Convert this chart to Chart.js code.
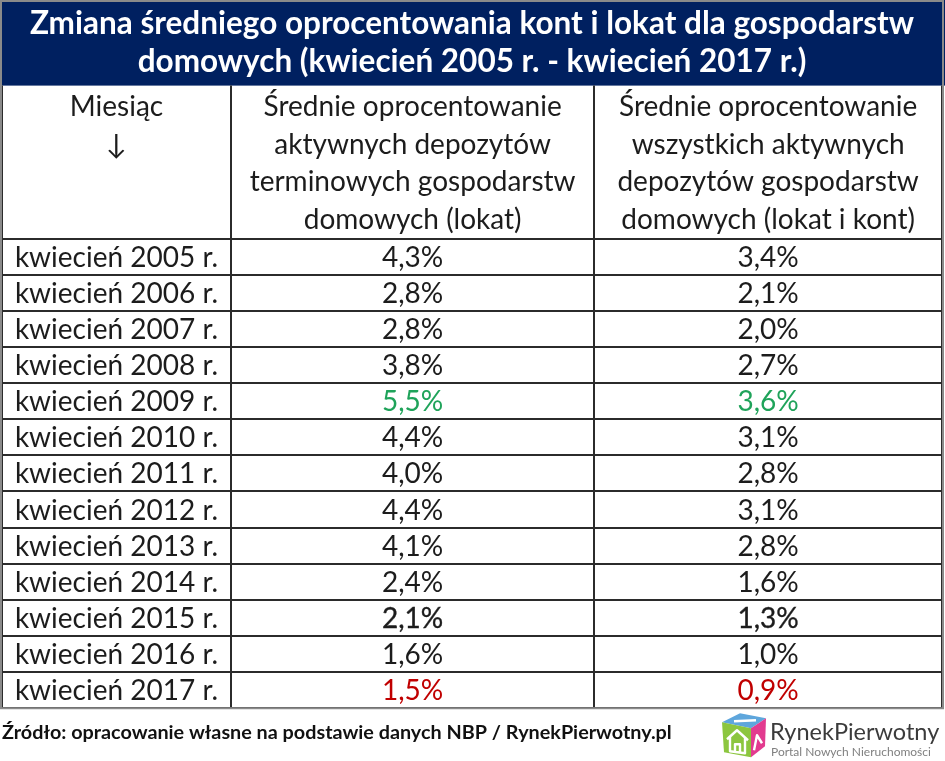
<!DOCTYPE html>
<html><head><meta charset="utf-8">
<script src="https://cdn.jsdelivr.net/npm/chart.js@4.4.1/dist/chart.umd.min.js"></script>
<style>html,body{margin:0;padding:0;background:#fff;}#wrap{width:945px;height:761px;position:relative;}</style>
</head><body><div id="wrap"><canvas id="c"></canvas></div>
<script>
// ---------- data ----------
const titleLines = [
  'Zmiana średniego oprocentowania kont i lokat dla gospodarstw',
  'domowych (kwiecień 2005 r. - kwiecień 2017 r.)'
];
const columnHeaders = [
  ['Miesiąc', '↓'],
  ['Średnie oprocentowanie', 'aktywnych depozytów', 'terminowych gospodarstw', 'domowych (lokat)'],
  ['Średnie oprocentowanie', 'wszystkich aktywnych', 'depozytów gospodarstw', 'domowych (lokat i kont)']
];
const months = [
  'kwiecień 2005 r.', 'kwiecień 2006 r.', 'kwiecień 2007 r.', 'kwiecień 2008 r.',
  'kwiecień 2009 r.', 'kwiecień 2010 r.', 'kwiecień 2011 r.', 'kwiecień 2012 r.',
  'kwiecień 2013 r.', 'kwiecień 2014 r.', 'kwiecień 2015 r.', 'kwiecień 2016 r.',
  'kwiecień 2017 r.'
];
const depositRates = [4.3, 2.8, 2.8, 3.8, 5.5, 4.4, 4.0, 4.4, 4.1, 2.4, 2.1, 1.6, 1.5];
const allRates     = [3.4, 2.1, 2.0, 2.7, 3.6, 3.1, 2.8, 3.1, 2.8, 1.6, 1.3, 1.0, 0.9];
const sourceText = 'Źródło: opracowanie własne na podstawie danych NBP / RynekPierwotny.pl';

// ---------- layout / style ----------
const FONT = 'Lato, "DejaVu Sans", sans-serif';
const colEdges = [0, 0.2436, 0.6301, 1];   // relative column boundaries of the table
const HEADER_H = 153;
const LINE = '#2b2b2b';
const TEXT = '#1c1c1c';
const GREEN = '#1fa35a';
const RED = '#c00000';
const NAVY = '#002060';
const FRAME = '#8a8a8a';
const emphasisRow = 'kwiecień 2015 r.';

const colCenter = c => (colEdges[c] + colEdges[c + 1]) / 2;
const fmt = v => v.toFixed(1).replace('.', ',') + '%';
function colorsFor(values) {
  const mx = Math.max(...values), mn = Math.min(...values);
  return values.map(v => v === mx ? GREEN : (v === mn ? RED : TEXT));
}

const datasets = [
  { label: 'Miesiąc', data: months.map(m => ({ x: colCenter(0), y: m })),
    cellText: months, cellColors: months.map(() => TEXT) },
  { label: columnHeaders[1].join(' '), data: depositRates.map((v, i) => ({ x: colCenter(1), y: months[i] })),
    cellText: depositRates.map(fmt), cellColors: colorsFor(depositRates) },
  { label: columnHeaders[2].join(' '), data: allRates.map((v, i) => ({ x: colCenter(2), y: months[i] })),
    cellText: allRates.map(fmt), cellColors: colorsFor(allRates) }
].map(d => Object.assign(d, { pointRadius: 0, pointHoverRadius: 0, showLine: false }));

// ---------- plugins ----------
const bandPlugin = {
  id: 'band',
  beforeDraw(chart) {
    const ctx = chart.ctx, xs = chart.scales.x;
    ctx.save();
    ctx.fillStyle = NAVY;
    ctx.fillRect(0, 0, chart.width, xs.top);
    ctx.restore();
  }
};

const cellPlugin = {
  id: 'cells',
  afterDatasetsDraw(chart) {
    const ctx = chart.ctx;
    ctx.save();
    ctx.font = '28px ' + FONT;
    ctx.textAlign = 'center';
    ctx.textBaseline = 'middle';
    chart.data.datasets.forEach((ds, di) => {
      const meta = chart.getDatasetMeta(di);
      meta.data.forEach((pt, i) => {
        ctx.fillStyle = ds.cellColors[i];
        ctx.fillText(ds.cellText[i], pt.x, pt.y + 1);
        if (di > 0 && months[i] === emphasisRow) {
          ctx.strokeStyle = ds.cellColors[i];
          ctx.lineWidth = 0.35;
          ctx.strokeText(ds.cellText[i], pt.x, pt.y + 1);
        }
      });
    });
    ctx.restore();
  }
};

const headerPlugin = {
  id: 'header',
  afterDraw(chart) {
    const ctx = chart.ctx, xs = chart.scales.x;
    const mid = (xs.top + xs.bottom) / 2 + 1.5;
    const lh = 37.5;
    ctx.save();
    ctx.font = '28px ' + FONT;
    ctx.fillStyle = TEXT;
    ctx.textAlign = 'center';
    ctx.textBaseline = 'middle';
    columnHeaders.forEach((lines, c) => {
      const cx = xs.getPixelForValue(colCenter(c));
      lines.forEach((t, j) => ctx.fillText(t, cx, mid + (j - 1.5) * lh));
    });
    // outer frame
    const ca = chart.chartArea;
    ctx.strokeStyle = FRAME;
    ctx.lineWidth = 2;
    ctx.strokeRect(1, 1, ca.right - 0, ca.bottom - 1);
    // logo
    const lx = ca.right - 222, ly = ca.bottom + 4;
    ctx.lineJoin = 'round';
    ctx.fillStyle = '#5ea6dc';
    ctx.beginPath(); ctx.moveTo(lx + 2, ly + 10); ctx.lineTo(lx + 20, ly + 1); ctx.lineTo(lx + 46, ly + 6); ctx.lineTo(lx + 31, ly + 16); ctx.closePath(); ctx.fill();
    ctx.fillStyle = '#8cc63f';
    ctx.beginPath(); ctx.moveTo(lx + 2, ly + 10); ctx.lineTo(lx + 31, ly + 16); ctx.lineTo(lx + 31, ly + 45); ctx.lineTo(lx + 4, ly + 40); ctx.closePath(); ctx.fill();
    ctx.fillStyle = '#e23b8f';
    ctx.beginPath(); ctx.moveTo(lx + 31, ly + 16); ctx.lineTo(lx + 46, ly + 6); ctx.lineTo(lx + 45, ly + 34); ctx.lineTo(lx + 31, ly + 45); ctx.closePath(); ctx.fill();
    ctx.strokeStyle = '#ffffff'; ctx.lineWidth = 2.4;
    ctx.beginPath(); ctx.moveTo(lx + 7, ly + 27); ctx.lineTo(lx + 17, ly + 18); ctx.lineTo(lx + 28, ly + 28);
    ctx.moveTo(lx + 10, ly + 25); ctx.lineTo(lx + 10, ly + 39); ctx.lineTo(lx + 25, ly + 41); ctx.lineTo(lx + 25, ly + 26);
    ctx.moveTo(lx + 15, ly + 40); ctx.lineTo(lx + 15, ly + 32); ctx.lineTo(lx + 20, ly + 32); ctx.lineTo(lx + 20, ly + 40);
    ctx.stroke();
    ctx.beginPath(); ctx.moveTo(lx + 14, ly + 9); ctx.lineTo(lx + 36, ly + 8); ctx.stroke();
    ctx.beginPath(); ctx.moveTo(lx + 34, ly + 38); ctx.lineTo(lx + 37, ly + 23); ctx.lineTo(lx + 42, ly + 31); ctx.stroke();
    ctx.textAlign = 'left';
    ctx.textBaseline = 'alphabetic';
    ctx.fillStyle = '#3b3b3b';
    ctx.font = '23.5px ' + FONT;
    ctx.fillText('RynekPierwotny', lx + 50, ly + 28);
    ctx.fillStyle = '#808080';
    ctx.font = '12px ' + FONT;
    ctx.fillText('Portal Nowych Nieruchomości', lx + 51, ly + 44);
    ctx.restore();
  }
};

// ---------- chart ----------
new Chart(document.getElementById('c'), {
  type: 'scatter',
  data: { datasets },
  plugins: [bandPlugin, cellPlugin, headerPlugin],
  options: {
    responsive: true,
    maintainAspectRatio: false,
    animation: false,
    events: [],
    layout: { padding: { left: 2, right: 3, top: 0, bottom: 0 } },
    plugins: {
      legend: { display: false },
      tooltip: { enabled: false },
      title: {
        display: true, text: titleLines, color: '#ffffff',
        font: { family: FONT, size: 31.5, weight: 'bold', lineHeight: 1.2 },
        padding: { top: 5, bottom: 5 }
      },
      subtitle: {
        display: true, position: 'bottom', align: 'start', text: sourceText, color: '#111111',
        font: { family: FONT, size: 19.8, weight: 'bold', lineHeight: 1.2 },
        padding: { top: 12, bottom: 17 }
      }
    },
    scales: {
      x: {
        type: 'linear', position: 'top', min: 0, max: 1,
        afterBuildTicks: s => { s.ticks = colEdges.map(v => ({ value: v })); },
        afterFit: s => { s.height = HEADER_H; },
        ticks: { display: false },
        border: { display: false },
        grid: { color: LINE, lineWidth: 2, drawTicks: true, tickLength: HEADER_H }
      },
      y: {
        type: 'category', labels: months, offset: true,
        afterFit: s => { s.width = 0; },
        ticks: { display: false },
        border: { display: false },
        grid: { color: LINE, lineWidth: 2, offset: true, drawTicks: false }
      }
    }
  }
});
</script>
</body></html>
